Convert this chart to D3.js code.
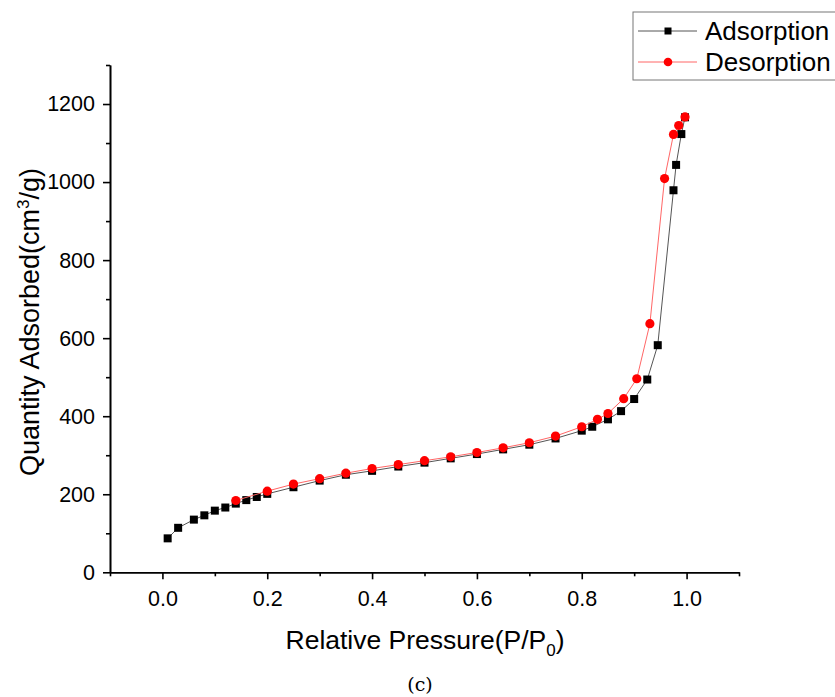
<!DOCTYPE html>
<html>
<head>
<meta charset="utf-8">
<script src="https://cdn.jsdelivr.net/npm/d3@7"></script>
<style>
  html, body { margin: 0; padding: 0; background: #fff; }
  svg { display: block; font-family: Arial, "Liberation Sans", sans-serif; }
</style>
</head>
<body>
<div id="chart"></div>
<script>
// ── Data ──────────────────────────────────────────────────────────────────
const adsorptionP = [0.01, 0.03, 0.06, 0.08, 0.10, 0.12, 0.14, 0.16, 0.18, 0.20, 0.25, 0.30, 0.35,
  0.40, 0.45, 0.50, 0.55, 0.60, 0.65, 0.70, 0.75, 0.80, 0.82, 0.85, 0.875, 0.90, 0.925, 0.945,
  0.975, 0.98, 0.99, 0.997];
const adsorptionQ = [87, 114, 135, 146, 158, 166, 176, 185, 193, 201, 218, 235, 250,
  260, 271, 281, 292, 303, 315, 327, 343, 363, 373, 392, 413, 444, 494, 582,
  979, 1044, 1123, 1166];

const desorptionP = [0.997, 0.985, 0.975, 0.958, 0.93, 0.905, 0.88, 0.85, 0.83, 0.80, 0.75, 0.70,
  0.65, 0.60, 0.55, 0.50, 0.45, 0.40, 0.35, 0.30, 0.25, 0.20, 0.14];
const desorptionQ = [1167, 1145, 1122, 1009, 637, 496, 445, 407, 392, 373, 349, 332,
  319, 307, 296, 286, 276, 266, 254, 240, 226, 208, 184];

const xMajorTicks = [0, 0.2, 0.4, 0.6, 0.8, 1.0];
const xMinorTicks = [-0.1, 0.1, 0.3, 0.5, 0.7, 0.9, 1.1];
const yMajorTicks = [0, 200, 400, 600, 800, 1000, 1200];
const yMinorTicks = [100, 300, 500, 700, 900, 1100, 1300];

const seriesNames = ["Adsorption", "Desorption"];

// ── Setup ─────────────────────────────────────────────────────────────────
const width = 835, height = 697;
const svg = d3.select("#chart").append("svg").attr("width", width).attr("height", height);

const x = d3.scaleLinear().domain([-0.1, 1.1]).range([110, 739]);
const y = d3.scaleLinear().domain([0, 1300]).range([572.3, 65]);

// ── Axes ──────────────────────────────────────────────────────────────────
const xAxis = svg.append("g").attr("transform", `translate(0,${y(0)})`)
  .call(d3.axisBottom(x).tickValues(xMajorTicks).tickFormat(d3.format(".1f")).tickSize(7).tickPadding(11).tickSizeOuter(0));
svg.append("g").attr("transform", `translate(0,${y(0)})`)
  .call(d3.axisBottom(x).tickValues(xMinorTicks).tickFormat("").tickSize(4).tickSizeOuter(0));

const yAxis = svg.append("g").attr("transform", `translate(${x(-0.1)},0)`)
  .call(d3.axisLeft(y).tickValues(yMajorTicks).tickFormat(d3.format("d")).tickSize(7).tickPadding(8).tickSizeOuter(0));
svg.append("g").attr("transform", `translate(${x(-0.1)},0)`)
  .call(d3.axisLeft(y).tickValues(yMinorTicks).tickFormat("").tickSize(4).tickSizeOuter(0));

svg.selectAll(".domain, .tick line").attr("stroke", "#000").attr("stroke-width", 1.6);
xAxis.selectAll("text").attr("font-size", 21.5).attr("fill", "#000");
yAxis.selectAll("text").attr("font-size", 21.5).attr("fill", "#000");

// ── Axis titles ───────────────────────────────────────────────────────────
const xTitle = svg.append("text")
  .attr("x", 425).attr("y", 649)
  .attr("text-anchor", "middle").attr("font-size", 26.5).attr("fill", "#000");
xTitle.append("tspan").text("Relative Pressure(P/P");
xTitle.append("tspan").attr("font-size", 17).attr("dy", 7).text("0");
xTitle.append("tspan").attr("dy", -7).text(")");

const yTitle = svg.append("text")
  .attr("transform", "translate(39,322) rotate(-90)")
  .attr("text-anchor", "middle").attr("font-size", 27).attr("fill", "#000");
yTitle.append("tspan").text("Quantity Adsorbed(cm");
yTitle.append("tspan").attr("font-size", 17).attr("dy", -10).text("3");
yTitle.append("tspan").attr("dy", 10).text("/g)");

svg.append("text")
  .attr("x", 420).attr("y", 691)
  .attr("text-anchor", "middle")
  .attr("font-family", "'DejaVu Serif', 'Liberation Serif', serif")
  .attr("font-size", 19).attr("fill", "#000")
  .text("(c)");

// ── Series ────────────────────────────────────────────────────────────────
const adsorption = adsorptionP.map((p, i) => ({ p, q: adsorptionQ[i] }));
const desorption = desorptionP.map((p, i) => ({ p, q: desorptionQ[i] }));

const line = d3.line().x(d => x(d.p)).y(d => y(d.q));

svg.append("path").datum(adsorption)
  .attr("d", line).attr("fill", "none")
  .attr("stroke", "#555").attr("stroke-width", 1);

svg.selectAll("rect.ads")
  .data(adsorption).join("rect")
  .attr("class", "ads")
  .attr("x", d => x(d.p) - 4).attr("y", d => y(d.q) - 4)
  .attr("width", 8).attr("height", 8)
  .attr("fill", "#000");

svg.append("path").datum(desorption)
  .attr("d", line).attr("fill", "none")
  .attr("stroke", "#f66").attr("stroke-width", 1);

svg.selectAll("circle.des")
  .data(desorption).join("circle")
  .attr("class", "des")
  .attr("cx", d => x(d.p)).attr("cy", d => y(d.q))
  .attr("r", 4.6)
  .attr("fill", "#f00");

// ── Legend ────────────────────────────────────────────────────────────────
const legend = svg.append("g");
legend.append("rect")
  .attr("x", 633).attr("y", 12).attr("width", 220).attr("height", 68)
  .attr("fill", "#fff").attr("stroke", "#777").attr("stroke-width", 1);

const legendColors = ["#555", "#f66"];
seriesNames.forEach((name, i) => {
  const ly = 31 + i * 31;
  legend.append("line")
    .attr("x1", 638).attr("x2", 697).attr("y1", ly).attr("y2", ly)
    .attr("stroke", legendColors[i]).attr("stroke-width", 1);
  if (i === 0) {
    legend.append("rect").attr("x", 664.5).attr("y", ly - 3.5).attr("width", 7).attr("height", 7).attr("fill", "#000");
  } else {
    legend.append("circle").attr("cx", 668).attr("cy", ly).attr("r", 4.3).attr("fill", "#f00");
  }
  legend.append("text")
    .attr("x", 705).attr("y", ly + 9)
    .attr("font-size", 26).attr("fill", "#000")
    .text(name);
});
</script>
</body>
</html>
